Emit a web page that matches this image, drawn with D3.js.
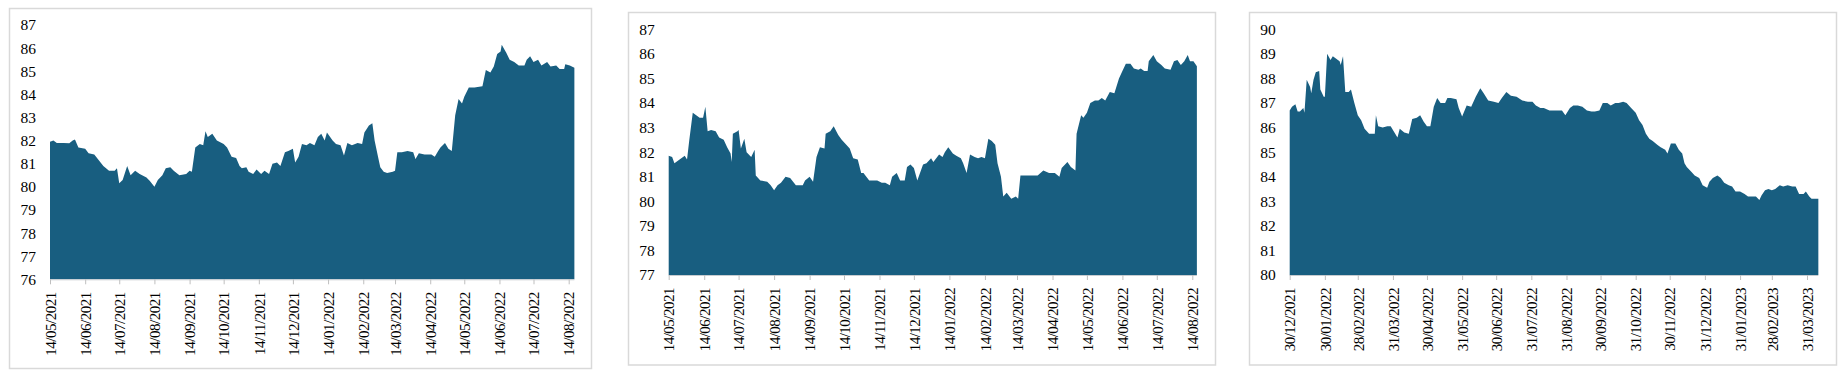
<!DOCTYPE html>
<html>
<head>
<meta charset="utf-8">
<script src="https://cdn.jsdelivr.net/npm/d3@7"></script>
<style>
    body { margin: 0; background: #fff; }
    svg { display: block; }
</style>
</head>
<body>
<svg id="chart" width="1843" height="377"></svg>
<script>
'use strict';

// panel 1
const start1 = '14/05/2021';
const days1 = [0, 3, 6, 12, 17, 20, 22, 25, 31, 34, 39, 43, 47, 52, 57, 59, 61, 64, 68, 71,
    75, 79, 85, 88, 92, 95, 99, 102, 106, 109, 114, 120, 123, 125, 128, 132, 135, 137, 139, 143,
    147, 153, 156, 160, 164, 167, 169, 173, 175, 179, 182, 186, 189, 193, 196, 200, 203, 207, 210, 214,
    216, 219, 222, 226, 229, 233, 236, 239, 242, 244, 249, 252, 256, 259, 262, 266, 271, 275, 277, 281,
    284, 286, 289, 291, 294, 297, 302, 304, 306, 310, 315, 320, 322, 325, 330, 336, 339, 342, 344, 348,
    351, 354, 357, 360, 363, 365, 369, 374, 381, 384, 388, 391, 394, 397, 398, 402, 405, 409, 413, 418,
    420, 423, 426, 430, 433, 438, 441, 446, 449, 453, 454, 458, 462];
const values1 = [81.95, 82.0, 81.9, 81.9, 81.88, 82.0, 82.05, 81.7, 81.65, 81.45,
    81.4, 81.15, 80.9, 80.7, 80.7, 80.8, 80.15, 80.3, 80.9, 80.5,
    80.7, 80.55, 80.4, 80.25, 80.0, 80.3, 80.5, 80.8, 80.85, 80.7,
    80.5, 80.55, 80.7, 80.65, 81.7, 81.85, 81.8, 82.4, 82.15, 82.3,
    82.0, 81.85, 81.7, 81.3, 81.25, 80.9, 80.8, 80.85, 80.65, 80.55,
    80.75, 80.55, 80.7, 80.55, 81.0, 81.05, 80.9, 81.5, 81.55, 81.65,
    81.05, 81.3, 81.85, 81.8, 81.9, 81.8, 82.15, 82.3, 82.0, 82.35,
    82.0, 81.85, 81.8, 81.35, 81.9, 81.8, 81.9, 81.85, 82.35, 82.65,
    82.75, 82.0, 81.3, 80.85, 80.65, 80.6, 80.65, 80.7, 81.5, 81.5,
    81.55, 81.5, 81.2, 81.45, 81.4, 81.4, 81.3, 81.55, 81.7, 81.9,
    81.65, 81.55, 83.1, 83.8, 83.6, 83.9, 84.3, 84.3, 84.35, 85.05,
    84.95, 85.2, 85.75, 85.85, 86.15, 85.8, 85.5, 85.4, 85.25, 85.25,
    85.5, 85.65, 85.4, 85.5, 85.25, 85.4, 85.2, 85.25, 85.1, 85.1,
    85.3, 85.25, 85.15];
const yTicks1 = [76, 77, 78, 79, 80, 81, 82, 83, 84, 85, 86, 87];
const ticks1 = ['14/05/2021', '14/06/2021', '14/07/2021', '14/08/2021', '14/09/2021',
    '14/10/2021', '14/11/2021', '14/12/2021', '14/01/2022', '14/02/2022', '14/03/2022',
    '14/04/2022', '14/05/2022', '14/06/2022', '14/07/2022', '14/08/2022'];

// panel 2
const start2 = '14/05/2021';
const days2 = [0, 3, 5, 8, 11, 14, 16, 18, 21, 24, 27, 30, 32, 34, 37, 41, 44, 48, 51, 54,
    55, 56, 60, 61, 63, 66, 68, 72, 75, 76, 80, 86, 89, 92, 95, 98, 102, 106, 111, 117,
    119, 123, 126, 129, 132, 136, 137, 141, 144, 148, 151, 155, 158, 161, 165, 168, 170, 175, 179, 182,
    186, 189, 193, 195, 199, 202, 206, 208, 211, 214, 217, 222, 225, 229, 231, 236, 239, 241, 244, 248,
    251, 255, 257, 260, 263, 267, 270, 273, 276, 279, 282, 285, 287, 290, 292, 295, 299, 303, 305, 307,
    311, 317, 322, 327, 332, 337, 341, 343, 348, 351, 355, 356, 360, 362, 365, 368, 372, 375, 378, 381,
    385, 389, 393, 396, 399, 403, 406, 410, 412, 415, 418, 419, 423, 426, 430, 433, 438, 441, 444, 447,
    450, 453, 455, 458, 461];
const values2 = [81.85, 81.8, 81.55, 81.65, 81.75, 81.85, 81.7, 82.5, 83.6, 83.5,
    83.4, 83.4, 83.85, 82.85, 82.9, 82.85, 82.6, 82.5, 82.2, 81.95,
    81.6, 82.75, 82.85, 82.9, 82.15, 82.55, 82.0, 81.8, 82.1, 81.05,
    80.85, 80.8, 80.65, 80.45, 80.65, 80.75, 81.0, 80.95, 80.65, 80.65,
    80.85, 81.0, 80.8, 81.8, 82.2, 82.15, 82.75, 82.85, 83.05, 82.7,
    82.5, 82.3, 82.15, 81.75, 81.7, 81.15, 81.15, 80.85, 80.85, 80.85,
    80.75, 80.75, 80.65, 81.0, 81.15, 80.85, 80.85, 81.4, 81.5, 81.35,
    80.85, 81.5, 81.55, 81.75, 81.6, 81.9, 81.8, 82.0, 82.2, 81.95,
    81.85, 81.75, 81.55, 81.15, 81.9, 81.8, 81.75, 81.8, 81.75, 82.55,
    82.45, 82.3, 81.55, 81.0, 80.2, 80.35, 80.1, 80.2, 80.1, 81.05,
    81.05, 81.05, 81.05, 81.25, 81.15, 81.15, 81.0, 81.35, 81.6, 81.4,
    81.25, 82.75, 83.5, 83.4, 83.6, 84.0, 84.1, 84.1, 84.2, 84.1,
    84.45, 84.4, 85.0, 85.3, 85.6, 85.6, 85.4, 85.35, 85.4, 85.3,
    85.3, 85.7, 85.95, 85.7, 85.55, 85.4, 85.35, 85.7, 85.75, 85.55,
    85.7, 85.95, 85.7, 85.7, 85.5];
const yTicks2 = [77, 78, 79, 80, 81, 82, 83, 84, 85, 86, 87];
const ticks2 = ticks1.slice();

// panel 3
const start3 = '30/12/2021';
const days3 = [0, 2, 5, 7, 9, 12, 13, 15, 18, 19, 21, 23, 26, 27, 30, 31, 33, 36, 38, 41,
    44, 45, 47, 49, 52, 54, 57, 60, 63, 66, 70, 75, 76, 78, 82, 86, 89, 93, 95, 97,
    101, 105, 108, 112, 115, 118, 121, 124, 127, 130, 133, 137, 139, 142, 147, 149, 152, 156, 160, 164,
    168, 171, 175, 180, 184, 187, 191, 195, 200, 205, 210, 214, 217, 221, 224, 229, 235, 240, 243, 247,
    250, 254, 258, 262, 266, 269, 273, 276, 280, 283, 287, 290, 294, 297, 301, 305, 308, 311, 314, 317,
    320, 324, 327, 331, 333, 336, 340, 343, 346, 348, 350, 354, 357, 361, 364, 368, 370, 373, 377, 380,
    383, 387, 390, 393, 397, 401, 404, 408, 411, 414, 416, 419, 422, 425, 428, 432, 435, 439, 443, 446,
    449, 453, 455, 458, 460, 466];
const values3 = [86.7, 86.85, 86.95, 86.65, 86.65, 86.8, 86.6, 87.95, 87.65, 87.4,
    87.95, 88.25, 88.3, 87.55, 87.25, 87.25, 89.0, 88.75, 88.9, 88.8,
    88.7, 88.55, 88.9, 87.45, 87.45, 87.55, 87.0, 86.5, 86.3, 85.95,
    85.75, 85.75, 86.5, 86.05, 86.0, 86.05, 86.05, 85.75, 85.6, 85.95,
    85.8, 85.75, 86.35, 86.4, 86.5, 86.25, 86.05, 86.05, 86.85, 87.2,
    87.0, 87.0, 87.2, 87.2, 87.15, 86.8, 86.45, 86.9, 86.85, 87.25,
    87.6, 87.4, 87.1, 87.05, 87.0, 87.2, 87.45, 87.3, 87.25, 87.1,
    87.05, 87.05, 86.9, 86.8, 86.8, 86.7, 86.7, 86.7, 86.5, 86.8,
    86.9, 86.9, 86.85, 86.7, 86.65, 86.65, 86.7, 87.0, 87.0, 86.9,
    87.0, 87.0, 87.05, 87.0, 86.8, 86.6, 86.3, 86.1, 85.75, 85.55,
    85.45, 85.3, 85.2, 85.1, 84.95, 85.35, 85.35, 85.1, 84.95, 84.55,
    84.4, 84.2, 84.05, 83.95, 83.65, 83.55, 83.8, 83.95, 84.05, 83.95,
    83.75, 83.65, 83.6, 83.4, 83.4, 83.3, 83.2, 83.2, 83.2, 83.05,
    83.25, 83.45, 83.5, 83.45, 83.5, 83.65, 83.6, 83.65, 83.6, 83.6,
    83.3, 83.3, 83.4, 83.2, 83.1, 83.1];
const yTicks3 = [80, 81, 82, 83, 84, 85, 86, 87, 88, 89, 90];
const ticks3 = ['30/12/2021', '30/01/2022', '28/02/2022', '31/03/2022', '30/04/2022',
    '31/05/2022', '30/06/2022', '31/07/2022', '31/08/2022', '30/09/2022', '31/10/2022',
    '30/11/2022', '31/12/2022', '31/01/2023', '28/02/2023', '31/03/2023'];

const parseDate = d3.utcParse('%d/%m/%Y');
const formatDate = d3.utcFormat('%d/%m/%Y');
const fontFamily = '"Liberation Serif", "DejaVu Serif", serif';

/**
 * Filled area panel with a frame, a left value axis and rotated date labels.
 * @return {Object} A reusable chart object.
 */
function areaPanel() {
    let frame = [0, 0, 500, 350];
    let xRange = [40, 480];
    let yRange = [270, 20];
    let fill = '#185e80';

    let chart = function(selection) {
        selection.each(function(data, i, nodes) {
            let s = d3.select(nodes[i]);

            let tickDates = data.ticks.map(parseDate);
            let start = parseDate(data.start);
            let points = data.days.map(function(d, j) {
                return {date: d3.utcDay.offset(start, d), value: data.values[j]};
            });

            let x = d3.scaleUtc()
                .domain([tickDates[0], tickDates[tickDates.length - 1]])
                .range(xRange);
            let y = d3.scaleLinear()
                .domain(d3.extent(data.yTicks))
                .range(yRange);

            s.append('rect')
                .attr('x', frame[0])
                .attr('y', frame[1])
                .attr('width', frame[2])
                .attr('height', frame[3])
                .style('fill', '#fff')
                .style('stroke', '#d9d9d9')
                .style('stroke-width', 1.5);

            let area = d3.area()
                .x(function(d) { return x(d.date); })
                .y0(y.range()[0])
                .y1(function(d) { return y(d.value); });

            s.append('path')
                .datum(points)
                .attr('d', area)
                .style('fill', fill);

            let yAxis = s.append('g')
                .attr('transform', 'translate(' + xRange[0] + ',0)')
                .call(d3.axisLeft(y)
                    .tickValues(data.yTicks)
                    .tickFormat(d3.format('d'))
                    .tickSize(0)
                    .tickPadding(14));
            yAxis.select('.domain').remove();
            yAxis.selectAll('text')
                .style('font-family', fontFamily)
                .style('font-size', '15.5px')
                .style('fill', '#000');

            let xEnd = x(points[points.length - 1].date);
            let xAxis = s.append('g')
                .attr('transform', 'translate(0,' + yRange[0] + ')')
                .call(d3.axisBottom(x)
                    .tickValues(tickDates)
                    .tickFormat(formatDate)
                    .tickSizeOuter(0)
                    .tickSize(5));
            xAxis.select('.domain')
                .attr('d', 'M' + xRange[0] + ',0.5H' + xEnd)
                .style('stroke', '#c8ccd0');
            xAxis.selectAll('line')
                .style('stroke', '#bfbfbf');
            xAxis.selectAll('text')
                .attr('transform', 'translate(0,13) rotate(-90)')
                .attr('x', 0)
                .attr('y', 0)
                .attr('dy', '0.35em')
                .attr('text-anchor', 'end')
                .style('font-family', fontFamily)
                .style('font-size', '15px')
                .style('letter-spacing', '-0.5px')
                .style('fill', '#000');
        });
    };

    chart.frame = function(value) {
        if (!arguments.length) return frame;
        frame = value;
        return chart;
    };

    chart.xRange = function(value) {
        if (!arguments.length) return xRange;
        xRange = value;
        return chart;
    };

    chart.yRange = function(value) {
        if (!arguments.length) return yRange;
        yRange = value;
        return chart;
    };

    chart.fill = function(value) {
        if (!arguments.length) return fill;
        fill = value;
        return chart;
    };

    return chart;
}

let svg = d3.select('#chart');

svg.append('g')
    .datum({start: start1, days: days1, values: values1, yTicks: yTicks1, ticks: ticks1})
    .call(areaPanel()
        .frame([9.5, 8.5, 582, 360])
        .xRange([50, 568.7])
        .yRange([279.3, 25]));

svg.append('g')
    .datum({start: start2, days: days2, values: values2, yTicks: yTicks2, ticks: ticks2})
    .call(areaPanel()
        .frame([628.5, 12.5, 587, 352.5])
        .xRange([668.7, 1192.3])
        .yRange([275, 29.3]));

svg.append('g')
    .datum({start: start3, days: days3, values: values3, yTicks: yTicks3, ticks: ticks3})
    .call(areaPanel()
        .frame([1249.5, 12.5, 587, 352.5])
        .xRange([1289.7, 1807])
        .yRange([275, 29.3]));
</script>
</body>
</html>
